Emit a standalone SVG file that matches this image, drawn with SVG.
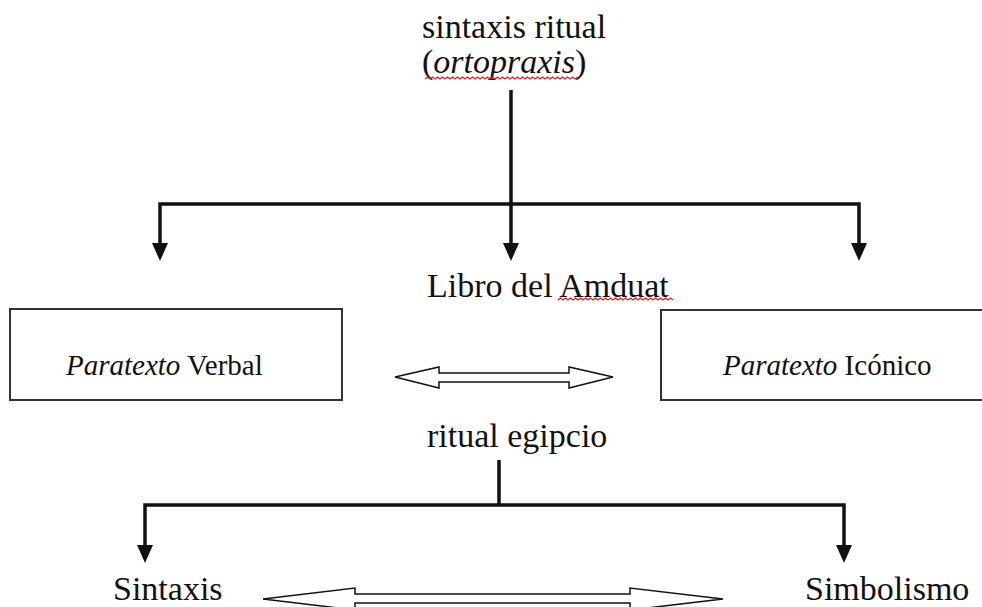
<svg xmlns="http://www.w3.org/2000/svg" width="982" height="607" viewBox="0 0 982 607">
<style>
  .t { font-family: "Liberation Serif", "Times New Roman", serif; fill: #111; }
  .big { font-size: 34px; }
  .small { font-size: 29px; }
  .it { font-style: italic; }
  .conn { fill: none; stroke: #111; stroke-width: 3.5; }
  .box { fill: #fff; stroke: #333; stroke-width: 2; }
  .dbl { fill: #fff; stroke: #111; stroke-width: 1.5; stroke-linejoin: miter; }
  .squig { fill: none; stroke: #e02020; stroke-width: 1.2; }
</style>
<rect width="982" height="607" fill="#fff"/>

<g id="connectors">
  <path class="conn" d="M511,90 V243"/>
  <path class="conn" d="M160,243 V204 H859 V243"/>
  <polygon points="152,243 168,243 160,261" fill="#111"/>
  <polygon points="503,243 519,243 511,261" fill="#111"/>
  <polygon points="851,243 867,243 859,261" fill="#111"/>
  <path class="conn" d="M499,460 V505"/>
  <path class="conn" d="M145,545 V505 H844 V545"/>
  <polygon points="137,545 153,545 145,563" fill="#111"/>
  <polygon points="836,545 852,545 844,563" fill="#111"/>
  <polygon class="dbl" points="395,377 439,367 439,373 569,373 569,367 613,377 569,388 569,382 439,382 439,388"/>
  <polygon class="dbl" points="263,599 355,588 355,594 630,594 630,588 723,599 630,610 630,603 355,603 355,610"/>
</g>

<g id="sintaxis-ritual">
  <text class="t big" x="422" y="38">sintaxis ritual</text>
  <text class="t big" x="422" y="73">(<tspan class="it">ortopraxis</tspan>)</text>
  <path class="squig" d="M425,79 l2.5,-2 l2.5,2 l2.5,-2 l2.5,2 l2.5,-2 l2.5,2 l2.5,-2 l2.5,2 l2.5,-2 l2.5,2 l2.5,-2 l2.5,2 l2.5,-2 l2.5,2 l2.5,-2 l2.5,2 l2.5,-2 l2.5,2 l2.5,-2 l2.5,2 l2.5,-2 l2.5,2 l2.5,-2 l2.5,2 l2.5,-2 l2.5,2 l2.5,-2 l2.5,2 l2.5,-2 l2.5,2 l2.5,-2 l2.5,2 l2.5,-2 l2.5,2 l2.5,-2 l2.5,2 l2.5,-2 l2.5,2 l2.5,-2 l2.5,2 l2.5,-2 l2.5,2 l2.5,-2 l2.5,2 l2.5,-2 l2.5,2 l2.5,-2 l2.5,2 l2.5,-2 l2.5,2 l2.5,-2 l2.5,2 l2.5,-2 l2.5,2 l2.5,-2 l2.5,2 l2.5,-2 l2.5,2 l2.5,-2 l2.5,2 l2.5,-2"/>
</g>

<g id="libro-amduat">
  <text class="t big" x="427" y="297">Libro del Amduat</text>
  <path class="squig" d="M558,300 l2.5,-2 l2.5,2 l2.5,-2 l2.5,2 l2.5,-2 l2.5,2 l2.5,-2 l2.5,2 l2.5,-2 l2.5,2 l2.5,-2 l2.5,2 l2.5,-2 l2.5,2 l2.5,-2 l2.5,2 l2.5,-2 l2.5,2 l2.5,-2 l2.5,2 l2.5,-2 l2.5,2 l2.5,-2 l2.5,2 l2.5,-2 l2.5,2 l2.5,-2 l2.5,2 l2.5,-2 l2.5,2 l2.5,-2 l2.5,2 l2.5,-2 l2.5,2 l2.5,-2 l2.5,2 l2.5,-2 l2.5,2 l2.5,-2 l2.5,2 l2.5,-2 l2.5,2 l2.5,-2 l2.5,2 l2.5,-2 l2.5,2"/>
</g>

<g id="paratexto-verbal">
  <rect class="box" x="10" y="309" width="332" height="91"/>
  <text class="t small" x="66" y="375"><tspan class="it">Paratexto</tspan> Verbal</text>
</g>

<g id="paratexto-iconico">
  <rect class="box" x="661" y="310" width="330" height="90"/>
  <text class="t small" x="723" y="375"><tspan class="it">Paratexto</tspan> Icónico</text>
</g>

<g id="ritual-egipcio">
  <text class="t big" x="427" y="447">ritual egipcio</text>
</g>

<g id="sintaxis">
  <text class="t big" x="113" y="600">Sintaxis</text>
</g>

<g id="simbolismo">
  <text class="t big" x="805" y="600">Simbolismo</text>
</g>
</svg>
